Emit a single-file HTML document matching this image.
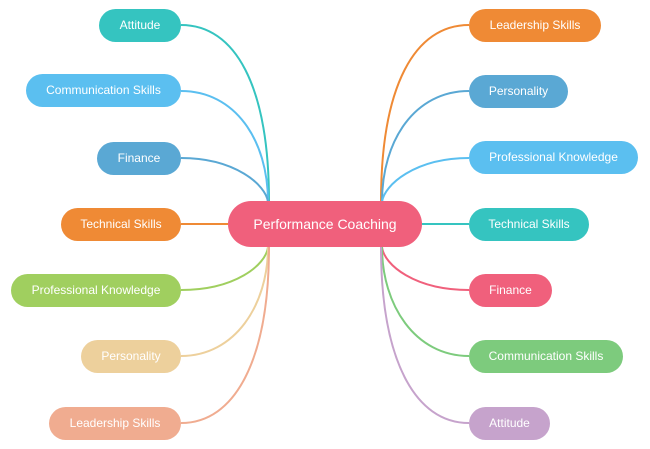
<!DOCTYPE html>
<html><head><style>
body{margin:0;width:650px;height:449px;background:#fff;position:relative;overflow:hidden;font-family:"Liberation Sans",sans-serif}
.n{position:absolute;height:33px;border-radius:17px;color:#fff;font-size:12px;line-height:33px;text-align:center;white-space:nowrap}
</style></head><body>
<svg width="650" height="449" style="position:absolute;left:0;top:0" fill="none" stroke-width="2">
<path d="M181,25 C235,25 269,85 269,202" stroke="#35c4c0"/>
<path d="M181,91 C235,91 268,140 268,202" stroke="#5bbff0"/>
<path d="M181,158 C235,158 266,185 268,202" stroke="#5aa8d4"/>
<path d="M181,224 L228,224" stroke="#ef8a35"/>
<path d="M181,290 C235,290 266,265 268,247" stroke="#a0cf5f"/>
<path d="M181,356 C235,356 268,305 268,247" stroke="#edd09c"/>
<path d="M181,423 C235,423 269,360 269,247" stroke="#f0ac90"/>
<path d="M469,25 C415,25 381,85 381,202" stroke="#ef8a35"/>
<path d="M469,91 C415,91 382,140 382,202" stroke="#5aa8d4"/>
<path d="M469,158 C415,158 384,185 382,202" stroke="#5bbff0"/>
<path d="M422,224 L469,224" stroke="#35c4c0"/>
<path d="M469,290 C415,290 384,265 382,247" stroke="#f0607c"/>
<path d="M469,356 C415,356 382,305 382,247" stroke="#7dcb7d"/>
<path d="M469,423 C415,423 381,360 381,247" stroke="#c6a3cc"/>
</svg>
<div class="n" style="left:228px;top:201px;width:194px;height:46px;line-height:46px;border-radius:23px;background:#f0607c;font-size:14px">Performance Coaching</div>
<div class="n" style="left:99px;top:9px;width:82px;background:#35c4c0">Attitude</div>
<div class="n" style="left:26px;top:74px;width:155px;background:#5bbff0">Communication Skills</div>
<div class="n" style="left:97px;top:142px;width:84px;background:#5aa8d4">Finance</div>
<div class="n" style="left:61px;top:208px;width:120px;background:#ef8a35">Technical Skills</div>
<div class="n" style="left:11px;top:274px;width:170px;background:#a0cf5f">Professional Knowledge</div>
<div class="n" style="left:81px;top:340px;width:100px;background:#edd09c">Personality</div>
<div class="n" style="left:49px;top:407px;width:132px;background:#f0ac90">Leadership Skills</div>
<div class="n" style="left:469px;top:9px;width:132px;background:#ef8a35">Leadership Skills</div>
<div class="n" style="left:469px;top:75px;width:99px;background:#5aa8d4">Personality</div>
<div class="n" style="left:469px;top:141px;width:169px;background:#5bbff0">Professional Knowledge</div>
<div class="n" style="left:469px;top:208px;width:120px;background:#35c4c0">Technical Skills</div>
<div class="n" style="left:469px;top:274px;width:83px;background:#f0607c">Finance</div>
<div class="n" style="left:469px;top:340px;width:154px;background:#7dcb7d">Communication Skills</div>
<div class="n" style="left:469px;top:407px;width:81px;background:#c6a3cc">Attitude</div>
</body></html>
